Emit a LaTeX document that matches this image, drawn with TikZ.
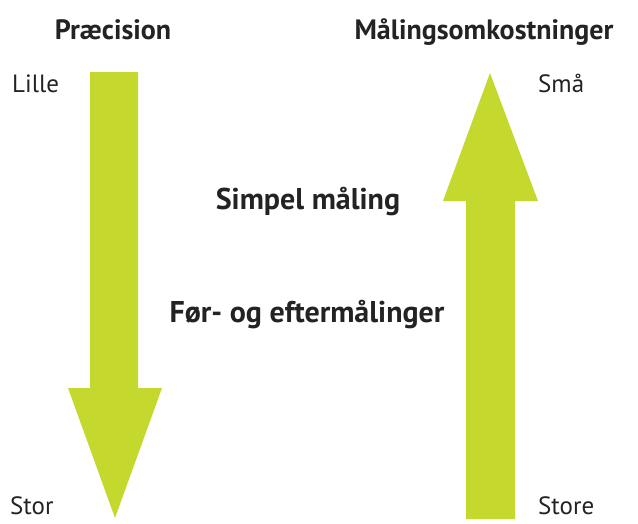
\documentclass[tikz,border=0pt]{standalone}
\usepackage{fontspec}
\setmainfont{PT Sans}
\definecolor{arrowgreen}{RGB}{196,216,46}
\definecolor{txt}{RGB}{35,35,35}
\begin{document}
\begin{tikzpicture}[x=1pt,y=-1pt,
  bigarrow/.style={fill=arrowgreen,draw=none},
  title/.style={font=\fontsize{28}{32}\selectfont\bfseries,text=txt,anchor=base,inner sep=0pt},
  label/.style={font=\fontsize{25}{28}\selectfont,text=txt,anchor=base west,inner sep=0pt},
  mid/.style={font=\fontsize{30}{34}\selectfont\bfseries,text=txt,anchor=base,inner sep=0pt}]
\useasboundingbox (0,0) rectangle (638,523);
% left arrow (down)
\path[bigarrow] (90,72) -- (138,72) -- (138,388) -- (162,388) -- (115,518) -- (68,388) -- (90,388) -- cycle;
% right arrow (up)
\path[bigarrow] (466,519) -- (515,519) -- (515,201) -- (538,201) -- (490,73) -- (443,201) -- (466,201) -- cycle;
\node[title] (prec) at (113,39) {Præcision};
\node[title] (cost) at (484,39) {Målingsomkostninger};
\node[label] (lille) at (12,92) {Lille};
\node[label] (smaa) at (538,92) {Små};
\node[label] (stor) at (10,514) {Stor};
\node[label] (store) at (538,514) {Store};
\node[mid] (simpel) at (308,209) {Simpel måling};
\node[mid] (foer) at (307,322) {Før- og eftermålinger};
\end{tikzpicture}
\end{document}
